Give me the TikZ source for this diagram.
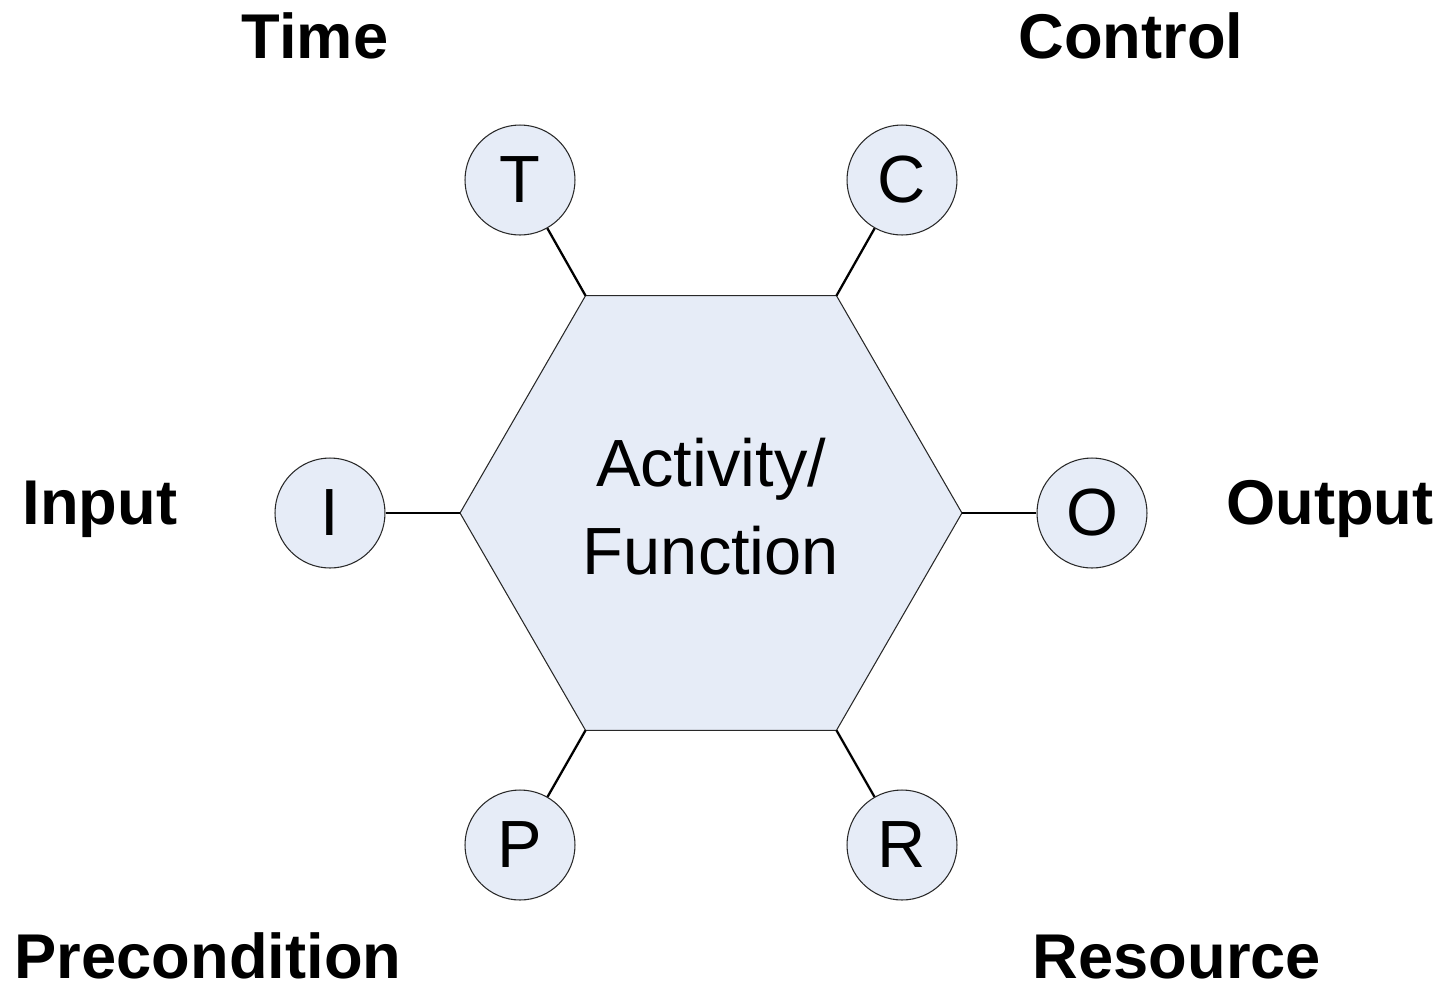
\documentclass[tikz,border=0pt]{standalone}
\usepackage{fontspec}
\setmainfont{Liberation Sans}
\usetikzlibrary{shapes.geometric}
\definecolor{activityfill}{RGB}{230,236,247}
\definecolor{portfill}{RGB}{230,236,247}
\definecolor{edgeline}{RGB}{40,40,40}

\begin{document}
\begin{tikzpicture}[x=0.02cm, y=-0.02cm,
        port/.style={circle, draw=edgeline, fill=portfill, line width=0.6pt,
            minimum size=2.2cm, inner sep=0pt, font=\fontsize{38}{40}\selectfont},
        portname/.style={anchor=base, inner sep=0pt, font=\bfseries\fontsize{36}{40}\selectfont},
        link/.style={line width=1.3pt}]
    \useasboundingbox (0,0) rectangle (1445,985);

    % the activity in the middle
    \node[regular polygon, regular polygon sides=6, minimum size=10.04cm,
        inner sep=0pt, outer sep=0pt, draw=edgeline, fill=activityfill,
        line width=0.6pt] (activity) at (711,513) {};
    \node[align=center, font=\fontsize{38}{50}\selectfont]
        (activitytext) at (711,507) {Activity/\\Function};

    % the six ports
    \node[port] (time) at (520,180) {T};
    \node[port] (control) at (902,180) {C};
    \node[port] (input) at (330,513) {I};
    \node[port] (output) at (1092,513) {O};
    \node[port] (precondition) at (520,845) {P};
    \node[port] (resource) at (902,845) {R};

    \draw[link] (time) -- (activity.120);
    \draw[link] (control) -- (activity.60);
    \draw[link] (input) -- (activity.180);
    \draw[link] (output) -- (activity.0);
    \draw[link] (precondition) -- (activity.240);
    \draw[link] (resource) -- (activity.300);

    % names
    \node[portname] (timename) at (315,58) {Time};
    \node[portname] (controlname) at (1131,58) {Control};
    \node[portname] (inputname) at (100,524) {Input};
    \node[portname] (outputname) at (1330,524) {Output};
    \node[portname] (preconditionname) at (208,978) {Precondition};
    \node[portname] (resourcename) at (1177,978) {Resource};
\end{tikzpicture}
\end{document}
